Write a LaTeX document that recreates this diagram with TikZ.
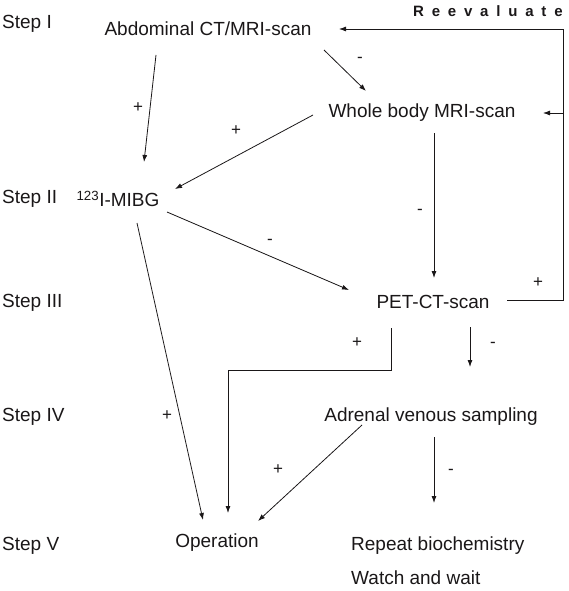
\documentclass[tikz,border=0pt]{standalone}
\usepackage{fontspec}
\setmainfont{Liberation Sans}
\newfontfamily\reevalfont[LetterSpace=52]{Liberation Sans Bold}
\usetikzlibrary{arrows.meta}
\definecolor{ink}{HTML}{1A1718}
\begin{document}
\begin{tikzpicture}[x=1pt,y=-1pt,
  txt/.style={inner sep=0pt,text=ink,font=\fontsize{19}{23}\selectfont},
  steplbl/.style={txt,anchor=west},
  sign/.style={inner sep=0pt,text=ink,font=\fontsize{17}{20}\selectfont},
  conn/.style={draw=ink,line width=0.8pt},
  arr/.style={conn,-{Latex[length=7pt,width=5pt]}}]
\useasboundingbox (0,0) rectangle (568,591);
% step labels
\node[steplbl] (s1) at (2,24) {Step I};
\node[steplbl] (s2) at (2,199) {Step II};
\node[steplbl] (s3) at (2,303) {Step III};
\node[steplbl] (s4) at (2,417) {Step IV};
\node[steplbl] (s5) at (2,546) {Step V};
% main nodes
\node[txt] (abd) at (208,29) {Abdominal CT/MRI-scan};
\node[txt] (whole) at (422,113) {Whole body MRI-scan};
\node[txt] (mibg) at (118,199) {\textsuperscript{123}I-MIBG};
\node[txt] (pet) at (433,302) {PET-CT-scan};
\node[txt] (avs) at (431,417) {Adrenal venous sampling};
\node[txt] (op) at (217,543) {Operation};
\node[txt,anchor=west] (rep) at (351,546) {Repeat biochemistry};
\node[txt,anchor=west] (watch) at (351,578) {Watch and wait};
\node[inner sep=0pt,text=ink,anchor=west,font=\reevalfont\fontsize{15}{17}\selectfont] (reeval) at (413,11) {Reevaluate};
% connector end points
\coordinate (a1) at (156,55); \coordinate (a2) at (144,162);
\coordinate (b1) at (324,50); \coordinate (b2) at (366,91);
\coordinate (c1) at (313,115); \coordinate (c2) at (175,189);
\coordinate (d1) at (167,212); \coordinate (d2) at (349,290);
\coordinate (e1) at (434,133); \coordinate (e2) at (434,278);
\coordinate (f1) at (507,300); \coordinate (f2) at (563,300);
\coordinate (f3) at (563,29); \coordinate (f4) at (339,29);
\coordinate (f5) at (563,113); \coordinate (f6) at (543,113);
\coordinate (g1) at (391,328); \coordinate (g2) at (391,370);
\coordinate (g3) at (228,370); \coordinate (g4) at (228,513);
\coordinate (h1) at (470,327); \coordinate (h2) at (470,367);
\coordinate (i1) at (137,223); \coordinate (i2) at (203,520);
\coordinate (j1) at (362,425); \coordinate (j2) at (258,521);
\coordinate (k1) at (434,437); \coordinate (k2) at (434,503);
% connectors
\draw[arr] (a1) -- (a2);
\draw[arr] (b1) -- (b2);
\draw[arr] (c1) -- (c2);
\draw[arr] (d1) -- (d2);
\draw[arr] (e1) -- (e2);
\draw[arr] (f1) -- (f2) -- (f3) -- (f4);
\draw[arr] (f5) -- (f6);
\draw[arr] (g1) -- (g2) -- (g3) -- (g4);
\draw[arr] (h1) -- (h2);
\draw[arr] (i1) -- (i2);
\draw[arr] (j1) -- (j2);
\draw[arr] (k1) -- (k2);
% signs
\node[sign] (la) at (138,108) {+};
\node[sign] (lb) at (360,60) {-};
\node[sign] (lc) at (236,131) {+};
\node[sign] (ld) at (270,242) {-};
\node[sign] (le) at (420,212) {-};
\node[sign] (lf) at (538,283) {+};
\node[sign] (lg) at (357,343) {+};
\node[sign] (lh) at (493,345) {-};
\node[sign] (li) at (167,416) {+};
\node[sign] (lj) at (278,470) {+};
\node[sign] (lk) at (451,472) {-};
\end{tikzpicture}
\end{document}
